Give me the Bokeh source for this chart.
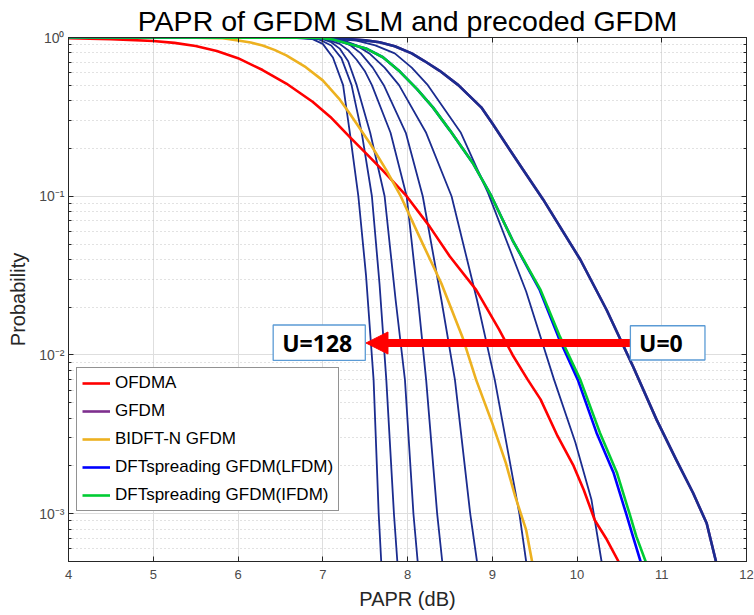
from bokeh.plotting import figure
from bokeh.models import (Range1d, FixedTicker, LogAxis, LinearAxis, CustomJSTickFormatter,
                          Legend, LegendItem, Arrow, NormalHead, BoxAnnotation, Label)
from bokeh.embed import file_html
from bokeh.resources import INLINE

# ---------------- texts / ticks ----------------
title_text = "PAPR of GFDM SLM and precoded GFDM"
x_label = "PAPR (dB)"
y_label = "Probability"
x_ticks = [4, 5, 6, 7, 8, 9, 10, 11, 12]
y_ticks = [1e-3, 1e-2, 1e-1, 1e0]
legend_names = ["OFDMA", "GFDM", "BIDFT-N GFDM",
                "DFTspreading GFDM(LFDM)", "DFTspreading GFDM(IFDM)"]
label_u0 = "U=0"
label_u128 = "U=128"

# ---------------- data ----------------
x_ofdma = [4.0, 4.5, 5.0, 5.25, 5.5, 5.75, 6.0, 6.29, 6.57, 6.88, 7.09, 7.32, 7.52, 7.71,
           7.99, 8.26, 8.50, 8.81, 9.08, 9.24, 9.42, 9.57, 9.77, 9.96, 10.08, 10.21, 10.35,
           10.49]
p_ofdma = [0.991, 0.977, 0.951, 0.925, 0.885, 0.822, 0.741, 0.624, 0.513, 0.394, 0.316,
           0.236, 0.184, 0.145, 0.1, 0.0646, 0.0417, 0.0257, 0.0145, 0.0100, 0.00697,
           0.00525, 0.00309, 0.0020, 0.00141, 0.00091, 0.00069, 0.0005]

x_bidft = [4.0, 5.5, 5.82, 5.9, 6.0, 6.15, 6.29, 6.43, 6.57, 6.80, 7.0, 7.2, 7.32, 7.56,
           7.75, 7.92, 8.18, 8.40, 8.65, 8.81, 9.0, 9.16, 9.27, 9.40, 9.47]
p_bidft = [1.0, 0.998, 0.989, 0.977, 0.957, 0.929, 0.891, 0.836, 0.771, 0.650, 0.537, 0.407,
           0.331, 0.214, 0.146, 0.1, 0.0501, 0.0282, 0.0129, 0.00697, 0.00372, 0.00209,
           0.00129, 0.00079, 0.0005]

x_ifdm = [4.0, 6.8, 7.0, 7.12, 7.24, 7.52, 7.71, 7.91, 8.11, 8.30, 8.50, 8.77, 8.99, 9.24,
          9.57, 9.80, 10.04, 10.27, 10.47, 10.62, 10.70, 10.81]
p_ifdm = [1.0, 0.998, 0.989, 0.971, 0.933, 0.849, 0.751, 0.610, 0.475, 0.363, 0.260, 0.162,
          0.1, 0.0528, 0.0257, 0.0130, 0.00697, 0.00324, 0.00182, 0.001, 0.00072, 0.0005]

x_lfdm = [4.0, 6.8, 7.0, 7.12, 7.24, 7.52, 7.71, 7.91, 8.11, 8.30, 8.50, 8.77, 8.99, 9.24,
          9.56, 9.78, 10.01, 10.23, 10.43, 10.58, 10.66, 10.75]
p_lfdm = [1.0, 0.998, 0.989, 0.971, 0.933, 0.849, 0.751, 0.610, 0.475, 0.363, 0.260, 0.162,
          0.1, 0.0528, 0.0257, 0.0130, 0.00697, 0.00324, 0.00182, 0.001, 0.00072, 0.0005]

# GFDM lies under the U=0 SLM curve
x_gfdm = [4.0, 6.5, 7.0, 7.3, 7.5, 7.67, 7.85, 8.05, 8.2, 8.38, 8.60, 8.87, 9.0, 9.16, 9.36,
          9.60, 10.04, 10.35, 10.66, 10.94, 11.17, 11.37, 11.53, 11.64]
p_gfdm = [1.0, 0.999, 0.993, 0.977, 0.959, 0.933, 0.881, 0.794, 0.711, 0.617, 0.501, 0.363,
          0.288, 0.214, 0.148, 0.0955, 0.0398, 0.0192, 0.0085, 0.0039, 0.00219, 0.00135,
          0.00087, 0.0005]

# SLM curves, U = 0, 2, 4, 8, 16, 32, 64, 128
x_u0 = [4.0, 6.5, 7.0, 7.3, 7.5, 7.67, 7.85, 8.05, 8.2, 8.38, 8.60, 8.87, 9.0, 9.16, 9.36,
        9.60, 10.04, 10.35, 10.66, 10.94, 11.17, 11.37, 11.53, 11.64]
p_u0 = [1.0, 0.999, 0.993, 0.977, 0.959, 0.933, 0.881, 0.794, 0.711, 0.617, 0.501, 0.363,
        0.288, 0.214, 0.148, 0.0955, 0.0398, 0.0192, 0.0085, 0.0039, 0.00219, 0.00135,
        0.00087, 0.0005]
x_u2 = [4.0, 7.0, 7.4, 7.62, 7.85, 8.05, 8.24, 8.63, 8.95, 9.40, 9.73, 9.98, 10.17, 10.29]
p_u2 = [1.0, 0.995, 0.955, 0.891, 0.794, 0.646, 0.501, 0.251, 0.105, 0.0251, 0.00697,
        0.00282, 0.00123, 0.0005]
x_u4 = [4.0, 6.9, 7.1, 7.25, 7.4, 7.55, 7.73, 7.90, 8.22, 8.52, 8.82, 9.03, 9.32, 9.40]
p_u4 = [1.0, 0.998, 0.984, 0.955, 0.891, 0.794, 0.646, 0.501, 0.251, 0.1, 0.0222, 0.00697,
        0.001, 0.0005]
x_u8 = [4.0, 6.85, 7.05, 7.2, 7.33, 7.45, 7.59, 7.72, 7.98, 8.18, 8.40, 8.56, 8.74, 8.82]
p_u8 = [1.0, 0.998, 0.984, 0.955, 0.891, 0.794, 0.646, 0.501, 0.251, 0.1, 0.0222, 0.00697,
        0.001, 0.0005]
x_u16 = [4.0, 6.8, 7.0, 7.2, 7.3, 7.4, 7.5, 7.58, 7.80, 7.99, 8.125, 8.22, 8.35, 8.41]
p_u16 = [1.0, 0.998, 0.989, 0.912, 0.832, 0.724, 0.610, 0.501, 0.251, 0.1, 0.0222, 0.00697,
         0.001, 0.0005]
x_u32 = [4.0, 6.75, 7.0, 7.1, 7.2, 7.30, 7.40, 7.56, 7.73, 7.86, 7.97, 8.07, 8.12]
p_u32 = [1.0, 0.998, 0.977, 0.933, 0.851, 0.708, 0.501, 0.251, 0.1, 0.0222, 0.00697, 0.001,
         0.0005]
x_u64 = [4.0, 6.7, 6.95, 7.1, 7.22, 7.34, 7.46, 7.58, 7.67, 7.75, 7.84, 7.88]
p_u64 = [1.0, 0.998, 0.977, 0.891, 0.741, 0.501, 0.251, 0.1, 0.028, 0.00697, 0.001, 0.0005]
x_u128 = [4.0, 6.6, 6.88, 7.0, 7.12, 7.24, 7.32, 7.42, 7.51, 7.60, 7.66, 7.69]
p_u128 = [1.0, 0.998, 0.977, 0.912, 0.748, 0.501, 0.251, 0.1, 0.032, 0.00697, 0.001, 0.0005]

# ---------------- annotation placement (data units) ----------------
arrow_y = 0.0119
arrow_x_from = 10.64
arrow_x_to = 7.51
box_u0 = dict(left=10.63, right=11.51, bottom=0.0093, top=0.01528)
box_u128 = dict(left=6.415, right=7.502, bottom=0.00924, top=0.01545)
text_u0_x = 10.99
text_u128_x = 6.935

# ---------------- styling ----------------
FONT = "Liberation Sans"
AX = "#262626"
NAVY = "#1B2C8F"
C_RED, C_PUR, C_ORA, C_BLU, C_GRN = "#FF0000", "#7E2F8E", "#EDB120", "#0000FF", "#00CC33"

p = figure(width=754, height=615, x_range=Range1d(4, 12), y_range=Range1d(5e-4, 1),
           y_axis_type="log", output_backend="svg", toolbar_location=None,
           title=title_text,
           min_border_left=68, min_border_right=8, min_border_top=37, min_border_bottom=54)
p.background_fill_color = "white"
p.border_fill_color = "white"
p.outline_line_color = AX
p.outline_line_width = 1

p.title.text_font = FONT
p.title.text_font_size = "28.5px"
p.title.text_font_style = "normal"
p.title.text_color = "#000000"
p.title.align = "center"
p.title.standoff = 2

y_minor = [k * 10.0 ** e for e in (-4, -3, -2, -1) for k in range(2, 10) if 5e-4 <= k * 10.0 ** e < 1]

ylab_code = """
const e = Math.round(Math.log10(tick));
const sup = {"-": "\u207b", "0": "\u2070", "1": "\u00b9", "2": "\u00b2", "3": "\u00b3",
             "4": "\u2074", "5": "\u2075"};
return "10" + String(e).split("").map(c => sup[c]).join("");
"""

def style_axis(ax):
    ax.axis_line_color = AX
    ax.axis_line_width = 1
    ax.major_tick_line_color = AX
    ax.minor_tick_line_color = AX
    ax.major_tick_in = 5
    ax.major_tick_out = 0
    ax.minor_tick_in = 3
    ax.minor_tick_out = 0
    ax.major_label_text_font = FONT
    ax.major_label_text_font_size = "13px"
    ax.major_label_text_color = "#4a4a4a"
    ax.axis_label_text_font = FONT
    ax.axis_label_text_font_size = "20px"
    ax.axis_label_text_font_style = "normal"
    ax.axis_label_text_color = AX

xa = p.xaxis[0]
xa.ticker = FixedTicker(ticks=x_ticks, minor_ticks=[])
style_axis(xa)
xa.axis_label = x_label
xa.major_label_standoff = 8
xa.axis_label_standoff = 6

ya = p.yaxis[0]
ya.ticker = FixedTicker(ticks=y_ticks, minor_ticks=y_minor)
ya.formatter = CustomJSTickFormatter(code=ylab_code)
style_axis(ya)
ya.major_label_text_font_size = "14px"
ya.axis_label = y_label
ya.major_label_standoff = 4
ya.axis_label_standoff = 7

empty = CustomJSTickFormatter(code="return '';")
top_axis = LinearAxis(ticker=FixedTicker(ticks=x_ticks, minor_ticks=[]), formatter=empty)
style_axis(top_axis)
top_axis.major_label_text_font_size = "0px"
top_axis.major_label_standoff = 0
p.add_layout(top_axis, "above")

right_axis = LogAxis(ticker=FixedTicker(ticks=y_ticks, minor_ticks=y_minor), formatter=empty)
style_axis(right_axis)
right_axis.major_label_text_font_size = "0px"
right_axis.major_label_standoff = 0
p.add_layout(right_axis, "right")

p.xgrid.grid_line_color = "#dedede"
p.xgrid.grid_line_width = 1
p.ygrid.grid_line_color = "#dedede"
p.ygrid.grid_line_width = 1
p.ygrid.minor_grid_line_color = "#c4c4c4"
p.ygrid.minor_grid_line_dash = "1 3"
p.ygrid.minor_grid_line_width = 1

# ---------------- curves ----------------
r_gfdm = p.line(x_gfdm, p_gfdm, line_color=C_PUR, line_width=2.6)
slm = [(x_u0, p_u0), (x_u2, p_u2), (x_u4, p_u4), (x_u8, p_u8), (x_u16, p_u16),
       (x_u32, p_u32), (x_u64, p_u64), (x_u128, p_u128)]
for i, (xs, ps) in enumerate(slm):
    p.line(xs, ps, line_color=NAVY, line_width=2.6 if i == 0 else 1.8, line_join="round")
r_ofdma = p.line(x_ofdma, p_ofdma, line_color=C_RED, line_width=2.6, line_join="round")
r_bidft = p.line(x_bidft, p_bidft, line_color=C_ORA, line_width=2.6, line_join="round")
r_lfdm = p.line(x_lfdm, p_lfdm, line_color=C_BLU, line_width=2.6, line_join="round")
r_ifdm = p.line(x_ifdm, p_ifdm, line_color=C_GRN, line_width=2.6, line_join="round")

# ---------------- annotations ----------------
p.add_layout(Arrow(end=NormalHead(size=22, fill_color=C_RED, line_color=C_RED, line_width=1),
                   x_start=arrow_x_from, y_start=arrow_y, x_end=arrow_x_to, y_end=arrow_y,
                   line_color=C_RED, line_width=8))
for bx in (box_u0, box_u128):
    p.add_layout(BoxAnnotation(fill_color="white", fill_alpha=1.0, line_color="#5B9BD5",
                               line_width=1.3, line_alpha=1.0, **bx))
for tx, txt in ((text_u0_x, label_u0), (text_u128_x, label_u128)):
    p.add_layout(Label(x=tx, y=arrow_y, text=txt, text_align="center", text_baseline="middle",
                       text_font="Noto Sans", text_font_size="23px", text_font_style="bold",
                       text_color="#000000"))

legend = Legend(items=[LegendItem(label=n, renderers=[r]) for n, r in
                       zip(legend_names, [r_ofdma, r_gfdm, r_bidft, r_lfdm, r_ifdm])],
                location=(8, 50), orientation="vertical",
                border_line_color=AX, border_line_width=1, background_fill_color="white",
                background_fill_alpha=1.0, label_text_font=FONT, label_text_font_size="17px",
                label_text_color="#000000", glyph_width=28, glyph_height=18, label_height=20,
                label_standoff=5, padding=5, spacing=8, margin=0)
p.add_layout(legend)

open("out.html", "w").write(file_html(p, INLINE))
